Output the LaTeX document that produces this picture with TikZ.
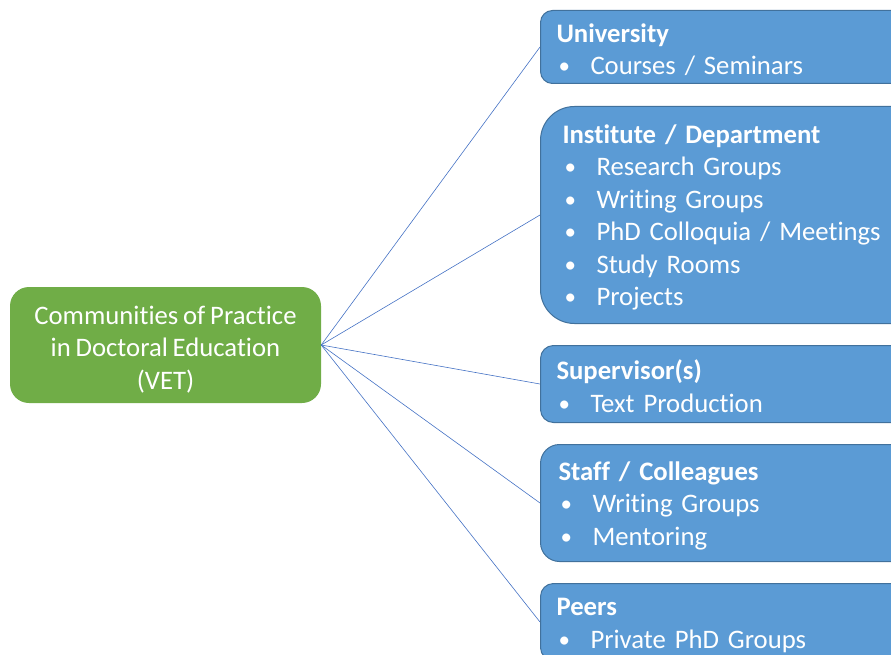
\documentclass[tikz,border=0pt]{standalone}
\usepackage{fontspec}
\setmainfont{Carlito}[Ligatures=NoCommon, WordSpace=0.8]
\definecolor{vetgreen}{HTML}{70AD47}
\definecolor{boxblue}{HTML}{5B9BD5}
\definecolor{boxline}{HTML}{41719C}
\definecolor{linkblue}{HTML}{4472C4}
\newcommand{\itm}[1]{\\\makebox[34pt][l]{\hspace{2pt}\raisebox{1pt}{\fontsize{23}{23}\selectfont\textbullet}}#1}
\newcommand{\hd}[1]{\rule{0pt}{24pt}\textbf{#1}}

\begin{document}
\begin{tikzpicture}
         [x=1pt,y=-1pt,
          every node/.style={font=\fontsize{26.7}{32.5}\selectfont, text=white},
          core/.style={fill=vetgreen, rounded corners=19pt, minimum width=311pt,
                       minimum height=116pt, align=center, inner sep=0pt},
          topic/.style={draw=boxline, line width=1pt, fill=boxblue, anchor=north west,
                        inner xsep=16pt, inner ysep=0pt, text width=388pt, align=left}]
         \useasboundingbox (0,0) rectangle (891,655);
         \clip (0,0) rectangle (891,655);
         \node[core] (vet) at (165.5,345)
            {\rule{0pt}{27pt}Communities of Practice\\in Doctoral Education\\(VET)};
         \node[topic, minimum height=73pt, rounded corners=12pt] (uni) at (540,10)
            {\hd{University}\itm{Courses / Seminars}};
         \node[topic, minimum height=217pt, rounded corners=34pt, inner xsep=22pt] (inst) at (540,106)
            {\hd{Institute / Department}\itm{Research Groups}\itm{Writing Groups}%
             \itm{PhD Colloquia / Meetings}\itm{Study Rooms}\itm{Projects}};
         \node[topic, minimum height=77pt, rounded corners=13pt] (sup) at (540,345)
            {\hd{Supervisor(s)}\itm{Text Production}};
         \node[topic, minimum height=117pt, rounded corners=19pt, inner xsep=18pt] (staff) at (540,444)
            {\hd{Staff / Colleagues}\itm{Writing Groups}\itm{Mentoring}};
         \node[topic, minimum height=77pt, rounded corners=13pt] (peers) at (540,583)
            {\hd{Peers}\itm{Private PhD Groups}};
         \foreach \to in {uni, inst, sup, staff, peers}
            \draw[linkblue, line width=0.6pt] (vet.east) -- (\to.west);
       \end{tikzpicture}
\end{document}
